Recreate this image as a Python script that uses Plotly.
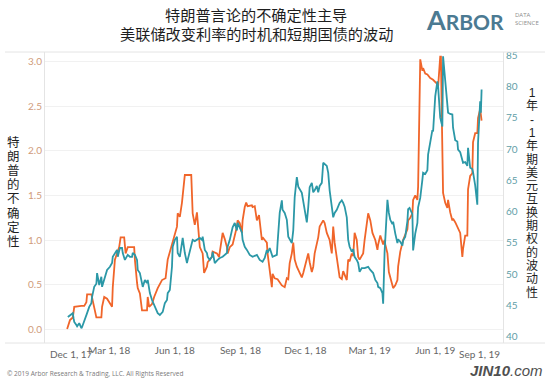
import plotly.graph_objects as go

# ---------------- data ----------------
trump_dates = [
    "2018-01-01", "2018-01-05", "2018-01-09", "2018-01-11", "2018-01-21", "2018-01-25", "2018-01-28", "2018-01-29",
    "2018-02-04", "2018-02-05", "2018-02-08", "2018-02-11", "2018-02-18", "2018-02-19", "2018-02-22", "2018-02-26",
    "2018-03-05", "2018-03-06", "2018-03-09", "2018-03-12", "2018-03-15", "2018-03-17", "2018-03-22", "2018-03-24",
    "2018-03-27", "2018-04-05", "2018-04-06", "2018-04-09", "2018-04-10", "2018-04-13", "2018-04-16", "2018-04-23",
    "2018-04-24", "2018-04-26", "2018-04-30", "2018-05-03", "2018-05-07", "2018-05-08", "2018-05-14", "2018-05-19",
    "2018-05-22", "2018-05-26", "2018-05-29", "2018-06-04", "2018-06-05", "2018-06-08", "2018-06-11", "2018-06-14",
    "2018-06-15", "2018-06-24", "2018-06-25", "2018-06-26", "2018-06-29", "2018-07-02", "2018-07-06", "2018-07-10",
    "2018-07-12", "2018-07-16", "2018-07-17", "2018-07-23", "2018-07-24", "2018-07-30", "2018-08-02", "2018-08-05",
    "2018-08-07", "2018-08-10", "2018-08-13", "2018-08-14", "2018-08-17", "2018-08-21", "2018-08-27", "2018-08-28",
    "2018-08-31", "2018-09-03", "2018-09-04", "2018-09-07", "2018-09-09", "2018-09-11", "2018-09-17", "2018-09-18",
    "2018-09-21", "2018-09-24", "2018-09-27", "2018-10-01", "2018-10-02", "2018-10-05", "2018-10-08", "2018-10-09",
    "2018-10-12", "2018-10-15", "2018-10-16", "2018-10-19", "2018-10-23", "2018-10-29", "2018-11-02", "2018-11-05",
    "2018-11-07", "2018-11-09", "2018-11-12", "2018-11-14", "2018-11-16", "2018-11-19", "2018-11-23", "2018-11-26",
    "2018-11-28", "2018-12-03", "2018-12-05", "2018-12-07", "2018-12-10", "2018-12-12", "2018-12-14", "2018-12-19",
    "2018-12-21", "2018-12-26", "2018-12-28", "2018-12-31", "2019-01-04", "2019-01-07", "2019-01-09", "2019-01-11",
    "2019-01-16", "2019-01-18", "2019-01-21", "2019-01-23", "2019-01-28", "2019-01-30", "2019-02-01", "2019-02-04",
    "2019-02-06", "2019-02-08", "2019-02-11", "2019-02-13", "2019-02-15", "2019-02-20", "2019-02-22", "2019-02-25",
    "2019-02-27", "2019-03-02", "2019-03-05", "2019-03-09", "2019-03-12", "2019-03-13", "2019-03-16", "2019-03-20",
    "2019-03-22", "2019-03-23", "2019-03-26", "2019-03-28", "2019-04-02", "2019-04-03", "2019-04-06", "2019-04-09",
    "2019-04-10", "2019-04-13", "2019-04-17", "2019-04-23", "2019-04-24", "2019-04-27", "2019-04-30", "2019-05-01",
    "2019-05-04", "2019-05-07", "2019-05-08", "2019-05-11", "2019-05-14", "2019-05-15", "2019-05-18", "2019-05-21",
    "2019-05-25", "2019-05-29", "2019-06-04", "2019-06-05", "2019-06-08", "2019-06-09", "2019-06-10", "2019-06-11",
    "2019-06-12", "2019-06-15", "2019-06-18", "2019-06-19", "2019-06-22", "2019-06-25", "2019-06-26", "2019-06-29",
    "2019-07-02", "2019-07-03", "2019-07-06", "2019-07-09", "2019-07-10", "2019-07-13", "2019-07-16", "2019-07-17",
    "2019-07-20", "2019-07-23", "2019-07-24", "2019-07-27", "2019-07-30", "2019-07-31", "2019-08-03", "2019-08-05",
]
trump_vals = [
    0.00, 0.10, 0.13, 0.25, 0.26, 0.26, 0.30, 0.39,
    0.39, 0.35, 0.25, 0.13, 0.13, 0.25, 0.36, 0.34,
    0.25, 0.47, 0.78, 0.85, 0.92, 1.03, 1.03, 0.85,
    0.92, 0.92, 0.78, 0.52, 0.46, 0.40, 0.21, 0.21,
    0.36, 0.25, 0.28, 0.36, 0.44, 0.46, 0.55, 0.57,
    0.78, 0.89, 1.00, 1.15, 1.30, 1.26, 1.42, 1.67,
    1.73, 1.73, 1.53, 1.30, 1.17, 1.31, 0.92, 0.85,
    0.63, 0.70, 0.75, 0.81, 0.87, 0.85, 0.81, 0.97,
    1.08, 1.01, 0.92, 0.85, 0.92, 0.95, 1.15, 1.22,
    1.19, 1.08, 1.22, 1.37, 1.42, 1.38, 1.39, 1.37,
    1.38, 1.22, 1.28, 1.00, 1.03, 1.00, 0.97, 0.85,
    0.63, 0.47, 0.62, 0.57, 0.56, 0.49, 0.47, 0.57,
    0.56, 0.74, 0.85, 0.97, 0.78, 0.70, 0.63, 0.58,
    0.63, 0.81, 0.85, 0.75, 0.64, 0.70, 0.85, 1.03,
    1.15, 1.22, 1.19, 1.08, 1.00, 0.85, 1.15, 0.97,
    0.70, 0.58, 0.56, 0.65, 0.55, 0.78, 0.76, 0.85,
    0.82, 1.08, 1.00, 0.81, 0.78, 0.85, 1.00, 1.15,
    1.30, 1.22, 1.08, 1.00, 0.89, 0.95, 1.05, 0.95,
    1.00, 0.95, 0.85, 0.64, 0.47, 0.46, 0.49, 0.55,
    0.70, 0.87, 1.00, 1.12, 1.22, 1.25, 1.30, 1.45,
    1.50, 1.45, 1.60, 3.03, 2.90, 2.93, 2.87, 2.86,
    2.82, 2.80, 2.75, 2.72, 3.06, 3.06, 2.50, 1.90,
    1.53, 1.42, 1.36, 1.45, 1.31, 1.22, 1.24, 1.20,
    1.15, 1.13, 1.08, 0.81, 0.90, 1.05, 1.05, 1.57,
    1.72, 1.75, 2.10, 2.20, 2.20, 2.37, 2.47, 2.34,
]

swap_dates = [
    "2018-01-02", "2018-01-05", "2018-01-09", "2018-01-10", "2018-01-11", "2018-01-14", "2018-01-15", "2018-01-18",
    "2018-01-21", "2018-01-22", "2018-01-25", "2018-01-29", "2018-02-01", "2018-02-04", "2018-02-05", "2018-02-08",
    "2018-02-11", "2018-02-12", "2018-02-15", "2018-02-18", "2018-02-19", "2018-02-22", "2018-02-25", "2018-02-26",
    "2018-03-02", "2018-03-05", "2018-03-06", "2018-03-09", "2018-03-12", "2018-03-13", "2018-03-16", "2018-03-19",
    "2018-03-20", "2018-03-23", "2018-03-26", "2018-03-27", "2018-03-30", "2018-04-02", "2018-04-03", "2018-04-06",
    "2018-04-09", "2018-04-10", "2018-04-13", "2018-04-16", "2018-04-17", "2018-04-20", "2018-04-23", "2018-04-24",
    "2018-04-27", "2018-04-30", "2018-05-02", "2018-05-04", "2018-05-07", "2018-05-08", "2018-05-11", "2018-05-14",
    "2018-05-15", "2018-05-18", "2018-05-21", "2018-05-22", "2018-05-25", "2018-05-28", "2018-05-29", "2018-06-01",
    "2018-06-04", "2018-06-05", "2018-06-08", "2018-06-11", "2018-06-12", "2018-06-15", "2018-06-18", "2018-06-19",
    "2018-06-22", "2018-06-25", "2018-06-26", "2018-06-29", "2018-07-02", "2018-07-06", "2018-07-09", "2018-07-10",
    "2018-07-13", "2018-07-16", "2018-07-17", "2018-07-20", "2018-07-23", "2018-07-24", "2018-07-27", "2018-07-30",
    "2018-07-31", "2018-08-03", "2018-08-07", "2018-08-13", "2018-08-14", "2018-08-17", "2018-08-20", "2018-08-21",
    "2018-08-24", "2018-08-27", "2018-08-28", "2018-08-31", "2018-09-03", "2018-09-04", "2018-09-07", "2018-09-10",
    "2018-09-14", "2018-09-18", "2018-09-24", "2018-09-28", "2018-10-02", "2018-10-05", "2018-10-08", "2018-10-09",
    "2018-10-12", "2018-10-16", "2018-10-22", "2018-10-23", "2018-10-26", "2018-10-29", "2018-10-30", "2018-11-02",
    "2018-11-05", "2018-11-07", "2018-11-09", "2018-11-12", "2018-11-14", "2018-11-16", "2018-11-19", "2018-11-21",
    "2018-11-26", "2018-11-28", "2018-12-03", "2018-12-05", "2018-12-07", "2018-12-10", "2018-12-12", "2018-12-14",
    "2018-12-17", "2018-12-19", "2018-12-21", "2018-12-24", "2018-12-26", "2018-12-31", "2019-01-02", "2019-01-04",
    "2019-01-07", "2019-01-09", "2019-01-11", "2019-01-14", "2019-01-18", "2019-01-21", "2019-01-23", "2019-01-25",
    "2019-01-28", "2019-01-30", "2019-02-01", "2019-02-04", "2019-02-06", "2019-02-08", "2019-02-11", "2019-02-13",
    "2019-02-15", "2019-02-18", "2019-02-22", "2019-02-27", "2019-03-02", "2019-03-06", "2019-03-09", "2019-03-12",
    "2019-03-13", "2019-03-16", "2019-03-19", "2019-03-20", "2019-03-22", "2019-03-26", "2019-03-28", "2019-03-30",
    "2019-04-02", "2019-04-03", "2019-04-06", "2019-04-09", "2019-04-10", "2019-04-13", "2019-04-16", "2019-04-17",
    "2019-04-20", "2019-04-23", "2019-04-24", "2019-04-26", "2019-04-30", "2019-05-01", "2019-05-04", "2019-05-07",
    "2019-05-08", "2019-05-11", "2019-05-14", "2019-05-15", "2019-05-18", "2019-05-21", "2019-05-22", "2019-05-25",
    "2019-05-28", "2019-05-29", "2019-06-01", "2019-06-04", "2019-06-05", "2019-06-08", "2019-06-11", "2019-06-12",
    "2019-06-15", "2019-06-18", "2019-06-19", "2019-06-22", "2019-06-25", "2019-06-26", "2019-06-29", "2019-07-02",
    "2019-07-03", "2019-07-06", "2019-07-09", "2019-07-10", "2019-07-13", "2019-07-16", "2019-07-17", "2019-07-19",
    "2019-07-20", "2019-07-23", "2019-07-24", "2019-07-27", "2019-07-30", "2019-07-31", "2019-08-03", "2019-08-04",
    "2019-08-05",
]
swap_vals = [
    43.2, 43.5, 43.8, 43.0, 42.4, 41.9, 41.7, 42.2,
    41.4, 41.6, 42.7, 43.8, 44.8, 45.4, 46.4, 48.0,
    48.5, 50.2, 48.3, 49.6, 48.0, 49.1, 50.2, 50.7,
    51.2, 51.8, 52.8, 53.4, 53.9, 52.8, 54.2, 54.2,
    53.4, 52.3, 52.8, 53.1, 52.8, 52.8, 53.4, 53.1,
    52.3, 50.7, 50.2, 48.6, 48.0, 49.1, 48.6, 49.1,
    47.0, 45.9, 45.4, 44.8, 44.0, 43.8, 43.5, 43.8,
    44.0, 45.4, 45.9, 47.0, 47.5, 51.2, 54.4, 55.5,
    56.0, 53.4, 52.8, 55.0, 55.8, 53.4, 51.8, 52.3,
    53.9, 55.0, 55.5, 55.3, 55.5, 55.8, 55.5, 56.0,
    53.9, 53.4, 52.8, 52.3, 52.8, 53.6, 51.8, 52.3,
    52.3, 52.6, 52.8, 53.4, 54.4, 55.5, 56.7, 57.5,
    58.2, 57.0, 58.2, 57.5, 56.7, 55.5, 54.4, 53.9,
    53.1, 52.8, 53.1, 52.3, 52.0, 52.6, 53.9, 53.4,
    54.2, 52.8, 53.1, 55.0, 59.8, 61.8, 60.3, 59.8,
    58.7, 56.0, 55.5, 55.0, 57.0, 62.3, 65.5, 64.0,
    63.0, 61.6, 58.3, 60.7, 63.9, 64.6, 63.1, 63.4,
    64.1, 63.1, 64.1, 64.6, 67.8, 67.3, 66.2, 63.4,
    60.7, 59.1, 59.8, 60.3, 61.4, 61.8, 61.4, 60.8,
    59.1, 55.5, 54.4, 53.6, 54.0, 52.8, 52.3, 51.8,
    50.4, 51.0, 51.0, 51.2, 50.7, 50.2, 49.1, 48.6,
    48.0, 47.8, 47.0, 45.3, 53.5, 61.9, 59.8, 58.7,
    58.0, 58.4, 56.5, 55.0, 55.6, 55.2, 54.6, 55.4,
    56.0, 58.5, 60.4, 60.6, 59.6, 53.8, 56.5, 58.2,
    60.7, 62.2, 65.1, 66.2, 66.0, 66.6, 69.1, 70.8,
    73.0, 72.8, 78.4, 80.8, 80.0, 75.0, 73.6, 84.8,
    80.5, 75.9, 75.8, 75.6, 75.5, 73.4, 71.4, 71.2,
    69.9, 69.5, 68.0, 67.8, 67.9, 67.3, 70.2, 67.6,
    67.0, 66.8, 66.3, 64.2, 61.1, 71.0, 77.6, 75.8,
    79.5,
]

xtick_dates = ["2017-12-01", "2018-03-01", "2018-06-01", "2018-09-01",
               "2018-12-01", "2019-03-01", "2019-06-01", "2019-09-01"]
xtick_text = ["Dec 1, 17", "Mar 1, 18", "Jun 1, 18", "Sep 1, 18",
              "Dec 1, 18", "Mar 1, 19", "Jun 1, 19", "Sep 1, 19"]
left_ticks = [0.0, 0.5, 1.0, 1.5, 2.0, 2.5, 3.0]
right_ticks = [40, 45, 50, 55, 60, 65, 70, 75, 80, 85]

title_lines = ["特朗普言论的不确定性主导", "美联储改变利率的时机和短期国债的波动"]
left_title = "特朗普的不确定性"
right_title = "1年-1年期美元互换期权的波动性"
copyright_text = "© 2019 Arbor Research & Trading, LLC. All Rights Reserved"

# ---------------- layout geometry ----------------
W, H = 550, 385
L, R, T, B = 45, 503, 52, 343

def px(x):
    return (x - L) / (R - L)

def py(y):
    return (B - y) / (B - T)

ORANGE = "#f0652a"
TEAL = "#2b98a7"
STACK = "Liberation Sans, Noto Sans CJK SC"
LAT = "Lato"

fig = go.Figure()
fig.add_trace(go.Scatter(x=trump_dates, y=trump_vals, mode="lines",
                         line=dict(color=ORANGE, width=1.8), yaxis="y", showlegend=False))
fig.add_trace(go.Scatter(x=swap_dates, y=swap_vals, mode="lines",
                         line=dict(color=TEAL, width=1.8), yaxis="y2", showlegend=False))

ann = []
# title
for line, ypix in zip(title_lines, [15, 34]):
    ann.append(dict(text=line, x=px(256), y=py(ypix), xref="paper", yref="paper",
                    showarrow=False, xanchor="center", yanchor="middle",
                    font=dict(family=STACK, size=15.2, color="#1e1e1e")))
# logo
ann.append(dict(text="<span style='font-size:27px'>A</span>RBOR", x=px(424), y=py(20),
                xref="paper", yref="paper", showarrow=False, xanchor="left", yanchor="middle",
                font=dict(family="Lato", size=21, color="#4b7a92", weight=700)))
ann.append(dict(text="DATA<br>SCIENCE", x=px(513), y=py(19), xref="paper", yref="paper",
                showarrow=False, xanchor="left", yanchor="middle", align="left",
                font=dict(family="Open Sans", size=6, color="#8c8c8c")))
# footer
ann.append(dict(text=copyright_text, x=px(5), y=py(373), xref="paper", yref="paper",
                showarrow=False, xanchor="left", yanchor="middle",
                font=dict(family="Open Sans", size=6.5, color="#7a7a7a")))
ann.append(dict(text="<b><i>JIN10</i></b><i>.com</i>", x=px(545), y=py(370), xref="paper",
                yref="paper", showarrow=False, xanchor="right", yanchor="middle",
                font=dict(family="Liberation Sans", size=15, color="#505050")))
# end x tick labels kept inside the pane (as in the reference)
ann.append(dict(text=xtick_text[0], x=0.006, y=py(354), xref="paper", yref="paper",
                showarrow=False, xanchor="left", yanchor="middle",
                font=dict(family=LAT, size=10, color="#666666")))
ann.append(dict(text=xtick_text[-1], x=0.998, y=py(354), xref="paper", yref="paper",
                showarrow=False, xanchor="right", yanchor="middle",
                font=dict(family=LAT, size=10, color="#666666")))

# vertical (stacked) axis titles: one text each, line pitch set by base font size,
# glyph size set by inner span
def stacked(text, xc, yc, pitch, glyph):
    body = "<br>".join(f"<span style='font-size:{glyph}px'>{c}</span>" for c in text)
    return dict(text=body, x=px(xc), y=py(yc), xref="paper", yref="paper",
                showarrow=False, xanchor="center", yanchor="middle", align="center",
                font=dict(family=STACK, size=pitch / 1.3, color="#1e1e1e"))

ann.append(stacked(left_title, 13.5, 192, 14.1, 12.5))
ann.append(stacked(right_title, 531.5, 193, 13.3, 12.0))

fig.update_layout(
    width=W, height=H,
    margin=dict(l=L, r=W - R, t=T, b=H - B, pad=0),
    paper_bgcolor="white", plot_bgcolor="white",
    xaxis=dict(type="date", range=["2017-12-01", "2019-09-04"],
               tickvals=xtick_dates[1:-1], ticktext=xtick_text[1:-1],
               showgrid=False, zeroline=False, showline=False, ticks="",
               tickfont=dict(family=LAT, size=10, color="#666666")),
    yaxis=dict(range=[-0.157, 3.112], tickvals=left_ticks,
               ticktext=[f"{v:.1f}" for v in left_ticks],
               showgrid=True, gridcolor="#f1f1f1", gridwidth=1, zeroline=False,
               showline=True, linecolor="#e4e4e4", linewidth=1, ticks="",
               tickfont=dict(family=LAT, size=10, color="#d09b7b")),
    yaxis2=dict(range=[39.04, 85.48], tickvals=right_ticks,
                ticktext=[str(v) for v in right_ticks], overlaying="y", side="right",
                showgrid=False, zeroline=False, showline=True, linecolor="#e4e4e4",
                linewidth=1, ticks="",
                tickfont=dict(family=LAT, size=10, color="#5f9ea7")),
    annotations=ann,
    shapes=[
        dict(type="line", xref="paper", yref="paper", x0=px(5), x1=px(545), y0=1, y1=1,
             line=dict(color="#e4e4e4", width=1)),
        dict(type="line", xref="paper", yref="paper", x0=px(5), x1=px(545), y0=0, y1=0,
             line=dict(color="#e4e4e4", width=1)),
    ],
)

fig.write_html("out.html", config={"displayModeBar": False},
               post_script="document.body.style.margin='0px';document.body.style.padding='0px';")
